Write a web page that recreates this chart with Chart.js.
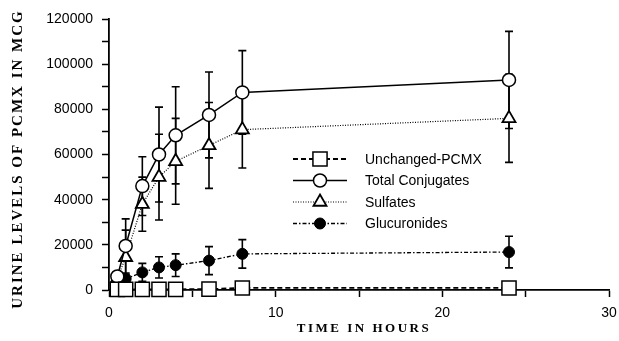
<!DOCTYPE html>
<html>
<head>
<meta charset="utf-8">
<script src="https://cdn.jsdelivr.net/npm/chart.js@4/dist/chart.umd.min.js"></script>
<style>
  html, body { margin: 0; padding: 0; background: #fff; }
  canvas { display: block; }
</style>
</head>
<body>
<canvas id="pcmxChart" width="619" height="341"></canvas>
<script>
// sampling times (hours)
const hours = [0.5, 1, 2, 3, 4, 6, 8, 24];

// urine levels in mcg, with +/- error values
const unchanged    = [300, 300, 300, 300, 300, 400, 900, 900];
const unchangedErr = [0, 0, 0, 0, 0, 0, 0, 0];
const totalConj    = [6000, 19500, 46000, 60000, 68500, 77500, 87500, 93000];
const totalErr     = [2000, 12000, 13000, 21000, 21500, 19000, 18500, 21500];
const sulfates     = [5000, 14500, 38000, 50000, 57000, 64000, 71000, 76000];
const sulfatesErr  = [1500, 12000, 12000, 19000, 19000, 19000, 17000, 19500];
const glucs        = [2500, 5000, 7800, 10000, 11000, 13000, 16000, 16800];
const glucsErr     = [1000, 2000, 4000, 4700, 5000, 6200, 6300, 7000];

const seriesNames = ['Unchanged-PCMX', 'Total Conjugates', 'Sulfates', 'Glucuronides'];

const xTicks = [0, 10, 20, 30];
const yTicks = [0, 20000, 40000, 60000, 80000, 100000, 120000];

const xTitle = 'TIME IN HOURS';
const yTitle = 'URINE LEVELS OF PCMX IN MCG';

function points(vals, errs) {
    return hours.map((h, i) => ({ x: h, y: vals[i], err: errs[i] }));
}

// vertical error bars with caps, drawn under the markers
const errorBars = {
    id: 'errorBars',
    beforeDatasetsDraw(chart) {
        const ctx = chart.ctx;
        const xs = chart.scales.x, ys = chart.scales.y;
        ctx.save();
        ctx.strokeStyle = '#000';
        ctx.lineWidth = 1.6;
        chart.data.datasets.forEach(ds => {
            ds.data.forEach(p => {
                if (!p.err) return;
                const x = xs.getPixelForValue(p.x);
                const y1 = ys.getPixelForValue(p.y + p.err);
                const y2 = ys.getPixelForValue(Math.max(0, p.y - p.err));
                ctx.beginPath();
                ctx.moveTo(x, y1); ctx.lineTo(x, y2);
                ctx.moveTo(x - 4, y1); ctx.lineTo(x + 4, y1);
                ctx.moveTo(x - 4, y2); ctx.lineTo(x + 4, y2);
                ctx.stroke();
            });
        });
        ctx.restore();
    }
};

// legend inside the plot + letter-spaced serif axis titles
const decorations = {
    id: 'decorations',
    afterDraw(chart) {
        const ctx = chart.ctx;
        ctx.save();
        chart.data.datasets.forEach((ds, i) => {
            const y = 159 + i * 21.5;
            ctx.strokeStyle = '#000';
            ctx.lineWidth = ds.borderWidth;
            ctx.setLineDash(ds.borderDash || []);
            ctx.beginPath();
            ctx.moveTo(293, y); ctx.lineTo(347, y);
            ctx.stroke();
            ctx.setLineDash([]);
            ctx.fillStyle = ds.pointBackgroundColor;
            ctx.lineWidth = ds.pointBorderWidth;
            Chart.helpers.drawPoint(ctx, {
                pointStyle: ds.pointStyle, radius: ds.pointRadius,
                rotation: 0, borderWidth: ds.pointBorderWidth
            }, 320, y);
            ctx.fillStyle = '#000';
            ctx.font = '14px "Liberation Sans", Arial, sans-serif';
            ctx.textBaseline = 'middle';
            ctx.textAlign = 'left';
            ctx.fillText(ds.label, 365, y + 1);
        });

        ctx.fillStyle = '#000';
        ctx.textAlign = 'center';
        ctx.textBaseline = 'middle';
        ctx.letterSpacing = '2.5px';
        ctx.font = 'bold 13px "Liberation Serif", "Times New Roman", serif';
        ctx.fillText(xTitle, 364, 329);

        ctx.letterSpacing = '2px';
        ctx.font = 'bold 15px "Liberation Serif", "Times New Roman", serif';
        ctx.translate(18, 159);
        ctx.rotate(-Math.PI / 2);
        ctx.fillText(yTitle, 0, 0);
        ctx.restore();
    }
};

const ctx = document.getElementById('pcmxChart').getContext('2d');
new Chart(ctx, {
    type: 'line',
    data: {
        datasets: [
            {
                label: seriesNames[0],
                data: points(unchanged, unchangedErr),
                borderColor: '#000', borderWidth: 1.8, borderDash: [5, 3],
                pointStyle: 'rect', pointRadius: 10,
                pointBackgroundColor: '#fff', pointBorderColor: '#000', pointBorderWidth: 1.5
            },
            {
                label: seriesNames[1],
                data: points(totalConj, totalErr),
                borderColor: '#000', borderWidth: 1.5,
                pointStyle: 'circle', pointRadius: 6.5,
                pointBackgroundColor: '#fff', pointBorderColor: '#000', pointBorderWidth: 1.5
            },
            {
                label: seriesNames[2],
                data: points(sulfates, sulfatesErr),
                borderColor: '#000', borderWidth: 1.2, borderDash: [1, 1.5],
                pointStyle: 'triangle', pointRadius: 7.5,
                pointBackgroundColor: '#fff', pointBorderColor: '#000', pointBorderWidth: 1.8
            },
            {
                label: seriesNames[3],
                data: points(glucs, glucsErr),
                borderColor: '#000', borderWidth: 1.3, borderDash: [4, 2, 1.5, 2],
                pointStyle: 'circle', pointRadius: 5.5,
                pointBackgroundColor: '#000', pointBorderColor: '#000', pointBorderWidth: 1
            }
        ]
    },
    options: {
        responsive: false,
        animation: false,
        clip: false,
        layout: { autoPadding: false, padding: { top: 19, right: 10, left: 0, bottom: 0 } },
        plugins: {
            legend: { display: false },
            tooltip: { enabled: false }
        },
        scales: {
            x: {
                type: 'linear',
                min: 0, max: 30,
                afterFit: s => { s.height = 51; s.paddingLeft = 0; s.paddingRight = 0; },
                ticks: {
                    stepSize: 5,
                    color: '#000',
                    padding: 8,
                    maxRotation: 0,
                    font: { family: '"Liberation Sans", Arial, sans-serif', size: 14 },
                    callback: v => xTicks.includes(v) ? v : ''
                },
                grid: { drawOnChartArea: false, tickLength: 7, tickColor: '#000', tickWidth: 1.5 },
                border: { color: '#000', width: 1.8 }
            },
            y: {
                min: 0, max: 120000,
                afterFit: s => { s.width = 109; s.paddingTop = 0; s.paddingBottom = 0; },
                ticks: {
                    stepSize: 10000,
                    color: '#000',
                    padding: 9,
                    font: { family: '"Liberation Sans", Arial, sans-serif', size: 14 },
                    callback: v => yTicks.includes(v) ? v : ''
                },
                grid: { drawOnChartArea: false, tickLength: 7, tickColor: '#000', tickWidth: 1.5 },
                border: { color: '#000', width: 1.8 }
            }
        }
    },
    plugins: [errorBars, decorations]
});
</script>
</body>
</html>
